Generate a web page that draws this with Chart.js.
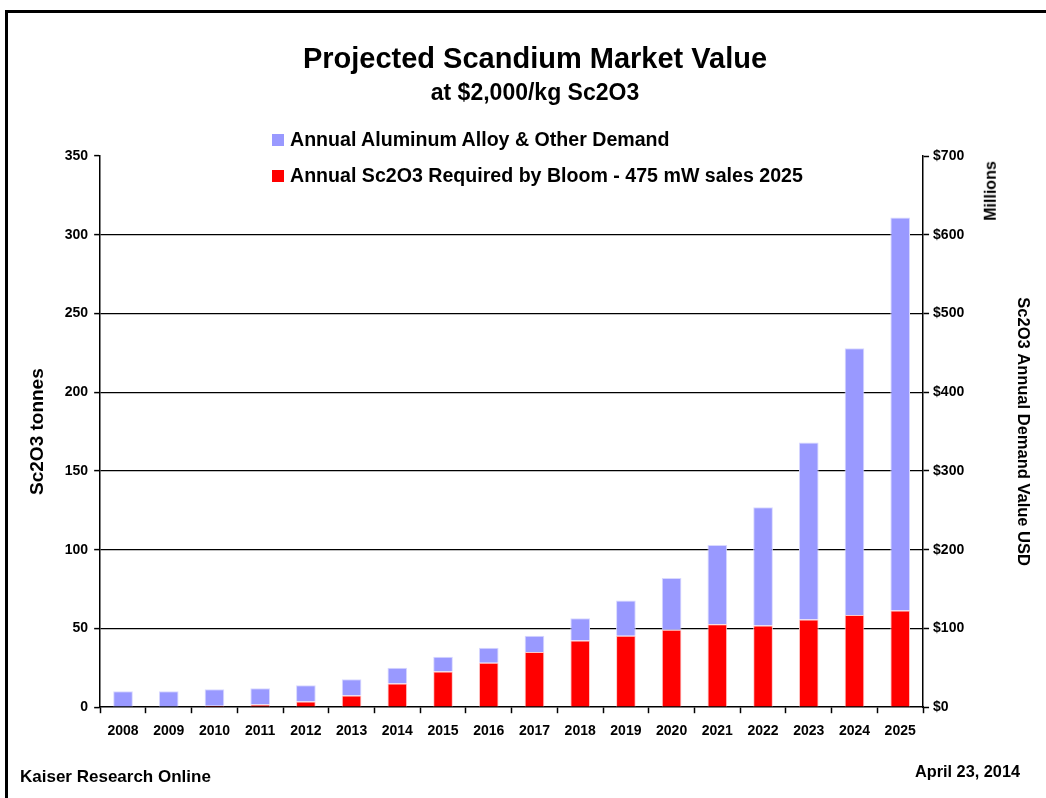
<!DOCTYPE html>
<html>
<head>
<meta charset="utf-8">
<script src="https://cdn.jsdelivr.net/npm/chart.js@4.4.1/dist/chart.umd.min.js"></script>
<style>
    html, body { margin: 0; padding: 0; background: #ffffff; }
    body { width: 1046px; height: 798px; position: relative; overflow: hidden; font-family: "Liberation Sans", Arial, sans-serif; }
    #frame { position: absolute; left: 5px; top: 10px; width: 1100px; height: 900px; border: 3px solid #000; box-sizing: border-box; }
    #wrap { position: absolute; left: 0; top: 0; width: 1046px; height: 798px; }
    .txt { position: absolute; font-weight: bold; color: #000; white-space: nowrap; }
    #title { left: 0; width: 1070px; top: 42px; text-align: center; font-size: 29px; }
    #subtitle { left: 0; width: 1070px; top: 79px; text-align: center; font-size: 23px; }
    .leg { position: absolute; left: 272px; font-size: 19.6px; font-weight: bold; }
    .leg i { display: inline-block; width: 12px; height: 12px; margin-right: 6px; vertical-align: 0px; }
    #millions { left: 961px; top: 182px; font-size: 16px; transform: rotate(-90deg); transform-origin: center; }
    #source { left: 20px; top: 767px; font-size: 17px; }
    #date { left: 915px; top: 762px; font-size: 16.3px; }
</style>
</head>
<body>
<div id="frame"></div>
<div id="wrap"><canvas id="chart"></canvas></div>
<div class="txt" id="title">Projected Scandium Market Value</div>
<div class="txt" id="subtitle">at $2,000/kg Sc2O3</div>
<div class="leg" style="top:128px"><i style="background:#9999ff"></i>Annual Aluminum Alloy &amp; Other Demand</div>
<div class="leg" style="top:164px"><i style="background:#ff0000"></i>Annual Sc2O3 Required by Bloom - 475 mW sales 2025</div>
<div class="txt" id="millions">Millions</div>
<div class="txt" id="source">Kaiser Research Online</div>
<div class="txt" id="date">April 23, 2014</div>
<script>
const YEARS = ["2008", "2009", "2010", "2011", "2012", "2013", "2014", "2015", "2016",
    "2017", "2018", "2019", "2020", "2021", "2022", "2023", "2024", "2025"];

// tonnes Sc2O3 needed by Bloom (red, bottom of stack)
const BLOOM = [0, 0, 1, 1.7, 3.6, 7.4, 15, 22.7, 28.3,
    35, 42.4, 45.3, 49.1, 52.7, 51.9, 55.7, 58.6, 61.4];

// tonnes for aluminum alloy & other (blue, top of stack)
const ALLOY = [10.2, 10.2, 10.4, 10.3, 10.4, 10.4, 10, 9.3, 9.4,
    10.3, 14.1, 22.5, 33, 50.3, 75.1, 112.3, 169.4, 249.6];

const LEFT_TICKS = { min: 0, max: 350, step: 50 };
const RIGHT_TICKS = { min: 0, max: 700, step: 100 };

const FONT = "'Liberation Sans', Arial, sans-serif";
const tickFont = { family: FONT, size: 14, weight: "bold" };

new Chart(document.getElementById("chart"), {
    type: "bar",
    data: {
        labels: YEARS,
        datasets: [
            {
                label: "Annual Sc2O3 Required by Bloom - 475 mW sales 2025",
                data: BLOOM,
                backgroundColor: "#ff0000",
                borderColor: "#ffc8c8",
                borderWidth: 1,
                yAxisID: "y",
            },
            {
                label: "Annual Aluminum Alloy & Other Demand",
                data: ALLOY,
                backgroundColor: "#9999ff",
                borderColor: "#d8d8ff",
                borderWidth: 1,
                yAxisID: "y",
            },
        ],
    },
    options: {
        responsive: true,
        maintainAspectRatio: false,
        animation: false,
        barPercentage: 0.43,
        categoryPercentage: 1,
        layout: { padding: { top: 156, right: 14, bottom: 48, left: 26 } },
        plugins: {
            legend: { display: false },
            tooltip: { enabled: false },
        },
        scales: {
            x: {
                stacked: true,
                offset: true,
                border: { color: "#000", width: 1.5 },
                grid: {
                    offset: true,
                    drawOnChartArea: false,
                    drawTicks: true,
                    tickLength: 6,
                    tickColor: "#000",
                    tickWidth: 1.5,
                },
                ticks: { color: "#000", font: tickFont, maxRotation: 0, padding: 10 },
            },
            y: {
                stacked: true,
                position: "left",
                min: LEFT_TICKS.min,
                max: LEFT_TICKS.max,
                border: { color: "#000", width: 1.5 },
                grid: {
                    color: (ctx) => (ctx.tick && ctx.tick.value > 0 && ctx.tick.value < LEFT_TICKS.max ? "#000" : "rgba(0,0,0,0)"),
                    lineWidth: 1.2,
                    tickColor: "#000",
                    tickLength: 6,
                    tickWidth: 1.5,
                },
                ticks: { stepSize: LEFT_TICKS.step, color: "#000", font: tickFont, padding: 6 },
                title: {
                    display: true,
                    text: "Sc2O3 tonnes",
                    color: "#000",
                    font: { family: FONT, size: 19, weight: "bold" },
                    padding: { top: 0, bottom: 10 },
                },
            },
            y1: {
                position: "right",
                min: RIGHT_TICKS.min,
                max: RIGHT_TICKS.max,
                border: { color: "#000", width: 1.5 },
                grid: {
                    drawOnChartArea: false,
                    tickColor: "#000",
                    tickLength: 6,
                    tickWidth: 1.5,
                },
                ticks: {
                    stepSize: RIGHT_TICKS.step,
                    color: "#000",
                    font: tickFont,
                    padding: 4,
                    callback: (v) => "$" + v,
                },
                title: {
                    display: true,
                    text: "Sc2O3 Annual Demand Value USD",
                    color: "#000",
                    font: { family: FONT, size: 16.5, weight: "bold" },
                    padding: { top: 0, bottom: 44 },
                },
            },
        },
    },
});
</script>
</body>
</html>
